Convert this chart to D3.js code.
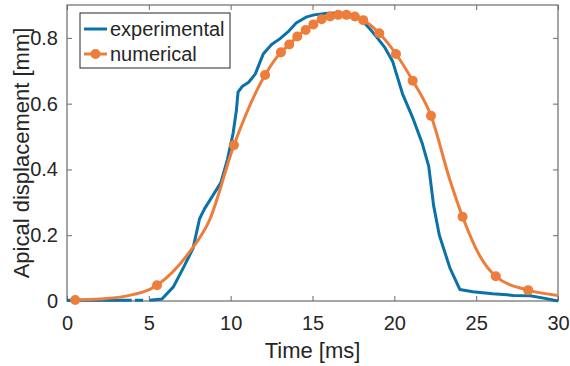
<!DOCTYPE html>
<html>
<head>
<meta charset="utf-8">
<script src="https://cdn.jsdelivr.net/npm/d3@7/dist/d3.min.js"></script>
<style>
  body { margin: 0; background: #fff; }
  text { font-family: "Liberation Sans", Arial, sans-serif; fill: #262626; }
</style>
</head>
<body>
<script>
// experimental curve (time ms, displacement mm); null = gap in the trace
var expTime = [0, 2.0, 3.4, 3.95, 4.05, 4.15, 4.65, 4.85, 5.05, 5.8, 6.5, 7.1, 7.7, 8.1, 8.4, 8.9, 9.4, 9.8, 10.15, 10.35, 10.45,
  10.7, 11.1, 11.5, 12.0, 12.5, 13.0, 13.5, 14.0, 14.6, 15.1, 15.9, 16.5, 17.1, 17.6, 18.1, 18.5, 18.9, 19.4,
  19.9, 20.5, 21.1, 21.7, 22.1, 22.4, 22.75, 23.4, 24.0, 24.8, 26.0, 27.3, 28.3, 29.2, 30.0];
var expDisp = [0.002, 0.002, 0.002, 0.002, null, 0.002, 0.002, null, 0.002, 0.006, 0.043, 0.10, 0.16, 0.25, 0.28, 0.32, 0.36, 0.43, 0.51, 0.58, 0.635,
  0.652, 0.665, 0.69, 0.752, 0.78, 0.797, 0.818, 0.845, 0.863, 0.870, 0.875, 0.876, 0.874, 0.866, 0.849, 0.828, 0.804, 0.772,
  0.728, 0.63, 0.56, 0.48, 0.41, 0.29, 0.20, 0.10, 0.035, 0.028, 0.022, 0.017, 0.016, 0.008, 0.0];

// numerical curve and the samples that carry markers
var numTime = [0.5, 2.0, 3.5, 5.5, 7.5, 8.7, 10.2, 12.1, 13.07, 13.58, 14.07, 14.58, 15.05, 15.56, 16.07, 16.57, 17.08,
  17.59, 18.1, 19.08, 20.1, 21.12, 22.24, 23.4, 24.17, 25.2, 26.2, 28.18, 30.0];
var numDisp = [0.003, 0.006, 0.014, 0.048, 0.15, 0.245, 0.474, 0.687, 0.756, 0.78, 0.804, 0.824, 0.841, 0.857, 0.865, 0.870, 0.870,
  0.865, 0.854, 0.814, 0.751, 0.670, 0.563, 0.367, 0.256, 0.139, 0.075, 0.033, 0.017];
var markerTime = [0.5, 5.5, 10.2, 12.1, 13.07, 13.58, 14.07, 14.58, 15.05, 15.56, 16.07, 16.57, 17.08, 17.59, 18.1,
  19.08, 20.1, 21.12, 22.24, 24.17, 26.2, 28.18];

var xTicks = [0, 5, 10, 15, 20, 25, 30];
var yTicks = [0, 0.2, 0.4, 0.6, 0.8];
var seriesNames = ["experimental", "numerical"];
var seriesColors = ["#0b72a8", "#ed7d3a"];

var W = 570, H = 366;
var m = { left: 67, right: 12, top: 5, bottom: 65 };

var x = d3.scaleLinear().domain([0, 30]).range([m.left, W - m.right]);
var y = d3.scaleLinear().domain([0, 0.9]).range([H - m.bottom, m.top]);

var svg = d3.select("body").append("svg")
  .attr("width", W)
  .attr("height", H);

var axisColor = "#6b6b6b";
var tickLen = 5;

function styleAxis(g) {
  g.select(".domain").remove();
  g.selectAll(".tick line").attr("stroke", axisColor);
  g.selectAll(".tick text").style("font-size", "20px").attr("fill", "#262626");
}

// bottom axis (ticks inward)
svg.append("g")
  .attr("transform", "translate(0," + y(0) + ")")
  .call(d3.axisBottom(x).tickValues(xTicks).tickSizeInner(-tickLen).tickSizeOuter(0).tickPadding(15).tickFormat(d3.format("d")))
  .call(styleAxis);

// top axis mirror
svg.append("g")
  .attr("transform", "translate(0," + y(0.9) + ")")
  .call(d3.axisTop(x).tickValues(xTicks).tickSizeInner(-tickLen).tickSizeOuter(0).tickFormat(""))
  .call(styleAxis);

// left axis
svg.append("g")
  .attr("transform", "translate(" + x(0) + ",0)")
  .call(d3.axisLeft(y).tickValues(yTicks).tickSizeInner(-tickLen).tickSizeOuter(0).tickPadding(9)
    .tickFormat(function (d) { return d === 0 ? "0" : d3.format(".1f")(d); }))
  .call(styleAxis);

// right axis mirror
svg.append("g")
  .attr("transform", "translate(" + x(30) + ",0)")
  .call(d3.axisRight(y).tickValues(yTicks).tickSizeInner(-tickLen).tickSizeOuter(0).tickFormat(""))
  .call(styleAxis);

// box
svg.append("rect")
  .attr("x", x(0)).attr("y", y(0.9))
  .attr("width", x(30) - x(0)).attr("height", y(0) - y(0.9))
  .attr("fill", "none").attr("stroke", axisColor).attr("stroke-width", 1.2);

var expData = expTime.map(function (t, i) { return { t: t, v: expDisp[i] }; });
var numData = numTime.map(function (t, i) { return { t: t, v: numDisp[i] }; });
var markData = numData.filter(function (d) { return markerTime.indexOf(d.t) >= 0; });

var expLine = d3.line()
  .defined(function (d) { return d.v !== null; })
  .x(function (d) { return x(d.t); })
  .y(function (d) { return y(d.v); });

var numLine = d3.line()
  .curve(d3.curveMonotoneX)
  .x(function (d) { return x(d.t); })
  .y(function (d) { return y(d.v); });

svg.append("path")
  .datum(expData)
  .attr("d", expLine)
  .attr("fill", "none")
  .attr("stroke", seriesColors[0])
  .attr("stroke-width", 3)
  .attr("stroke-linejoin", "round");

svg.append("path")
  .datum(numData)
  .attr("d", numLine)
  .attr("fill", "none")
  .attr("stroke", seriesColors[1])
  .attr("stroke-width", 3)
  .attr("stroke-linejoin", "round");

svg.selectAll(".mark")
  .data(markData)
  .enter().append("circle")
  .attr("class", "mark")
  .attr("cx", function (d) { return x(d.t); })
  .attr("cy", function (d) { return y(d.v); })
  .attr("r", 5)
  .attr("fill", seriesColors[1]);

// axis titles
svg.append("text")
  .attr("x", (x(0) + x(30)) / 2)
  .attr("y", 358)
  .attr("text-anchor", "middle")
  .style("font-size", "22px")
  .text("Time [ms]");

svg.append("text")
  .attr("transform", "translate(29," + ((y(0) + y(0.9)) / 2) + ") rotate(-90)")
  .attr("text-anchor", "middle")
  .style("font-size", "22px")
  .text("Apical displacement [mm]");

// legend
var lg = svg.append("g").attr("transform", "translate(80,13)");
lg.append("rect")
  .attr("width", 150).attr("height", 55)
  .attr("fill", "#fff").attr("stroke", "#262626").attr("stroke-width", 1);

seriesNames.forEach(function (name, i) {
  var cy = 16 + i * 25;
  lg.append("line")
    .attr("x1", 4).attr("x2", 27)
    .attr("y1", cy).attr("y2", cy)
    .attr("stroke", seriesColors[i]).attr("stroke-width", 3);
  if (i === 1) {
    lg.append("circle").attr("cx", 15.5).attr("cy", cy).attr("r", 5).attr("fill", seriesColors[i]);
  }
  lg.append("text")
    .attr("x", 30).attr("y", cy + 7)
    .style("font-size", "20px")
    .text(name);
});
</script>
</body>
</html>
